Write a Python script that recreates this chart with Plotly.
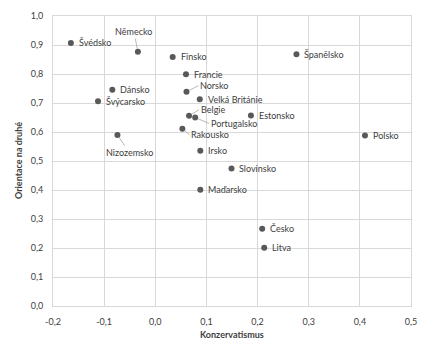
import plotly.graph_objects as go

countries = ["Švédsko", "Německo", "Finsko", "Francie", "Norsko", "Velká Británie",
             "Belgie", "Portugalsko", "Rakousko", "Irsko", "Dánsko", "Švýcarsko",
             "Nizozemsko", "Španělsko", "Estonsko", "Polsko", "Slovinsko",
             "Maďarsko", "Česko", "Litva"]
konzervatismus = [-0.165, -0.034, 0.034, 0.060, 0.061, 0.087,
                  0.066, 0.078, 0.053, 0.088, -0.084, -0.112,
                  -0.074, 0.276, 0.187, 0.410, 0.149,
                  0.088, 0.209, 0.213]
orientace = [0.907, 0.877, 0.859, 0.799, 0.739, 0.713,
             0.656, 0.650, 0.611, 0.535, 0.746, 0.706,
             0.590, 0.868, 0.657, 0.588, 0.474,
             0.401, 0.266, 0.201]

x_ticks = [-0.2, -0.1, 0.0, 0.1, 0.2, 0.3, 0.4, 0.5]
x_ticklabels = ["-0,2", "-0,1", "0,0", "0,1", "0,2", "0,3", "0,4", "0,5"]
y_ticks = [0.0, 0.1, 0.2, 0.3, 0.4, 0.5, 0.6, 0.7, 0.8, 0.9, 1.0]
y_ticklabels = ["0,0", "0,1", "0,2", "0,3", "0,4", "0,5", "0,6", "0,7", "0,8", "0,9", "1,0"]
x_title = "Konzervatismus"
y_title = "Orientace na druhé"

FONT = "Lato"
TXT = "#404040"
MK = "#595959"

# label placement styles (pixel offsets for leader-line labels)
label_style = {
    "Německo": (-4, -20, "center"),
    "Norsko": (12, -6, "left"),
    "Belgie": (10, -6, "left"),
    "Portugalsko": (14, 6, "left"),
    "Rakousko": (7, 6, "left"),
    "Nizozemsko": (12, 18, "center"),
}

fig = go.Figure()
fig.add_trace(go.Scatter(
    x=konzervatismus, y=orientace, mode="markers",
    marker=dict(color=MK, size=6),
    hoverinfo="text", text=countries, showlegend=False,
))

annotations = []
for name, xv, yv in zip(countries, konzervatismus, orientace):
    if name in label_style:
        ax, ay, anchor = label_style[name]
        annotations.append(dict(
            x=xv, y=yv, xref="x", yref="y", text=name,
            showarrow=True, arrowhead=0, arrowwidth=0.8, arrowcolor="#a6a6a6",
            ax=ax, ay=ay, xanchor=anchor, yanchor="middle",
            standoff=3, startstandoff=0,
            font=dict(family=FONT, size=9, color=TXT),
        ))
    else:
        annotations.append(dict(
            x=xv, y=yv, xref="x", yref="y", text=name, showarrow=False,
            xanchor="left", yanchor="middle", xshift=6,
            font=dict(family=FONT, size=9, color=TXT),
        ))

annotations.append(dict(
    x=0.5, y=0, xref="paper", yref="paper", yshift=-28, text="<b>" + x_title + "</b>",
    showarrow=False, xanchor="center", yanchor="middle",
    font=dict(family=FONT, size=9, color=TXT),
))
annotations.append(dict(
    x=0, y=0.5, xref="paper", yref="paper", xshift=-35, text="<b>" + y_title + "</b>",
    showarrow=False, xanchor="center", yanchor="middle", textangle=-90,
    font=dict(family=FONT, size=9, color=TXT),
))

# page body has a default 8px margin, so the figure is sized/margined to compensate
fig.update_layout(
    width=418, height=350,
    margin=dict(l=45, r=15, t=8, b=52),
    paper_bgcolor="white", plot_bgcolor="white",
    font=dict(family=FONT, size=9, color=TXT),
    annotations=annotations,
    xaxis=dict(
        range=[-0.2, 0.5], tickvals=x_ticks, ticktext=x_ticklabels,
        showgrid=True, gridcolor="#d9d9d9", gridwidth=1, automargin=False,
        showline=True, linecolor="#d9d9d9", mirror=True, zeroline=False,
        ticks="", ticklabelstandoff=7, tickfont=dict(family=FONT, size=9, color=TXT),
    ),
    yaxis=dict(
        range=[0, 1.0], tickvals=y_ticks, ticktext=y_ticklabels,
        showgrid=True, gridcolor="#d9d9d9", gridwidth=1, automargin=False,
        showline=True, linecolor="#d9d9d9", mirror=True, zeroline=False,
        ticks="", ticklabelstandoff=7, tickfont=dict(family=FONT, size=9, color=TXT),
    ),
)

fig.write_html("out.html")
